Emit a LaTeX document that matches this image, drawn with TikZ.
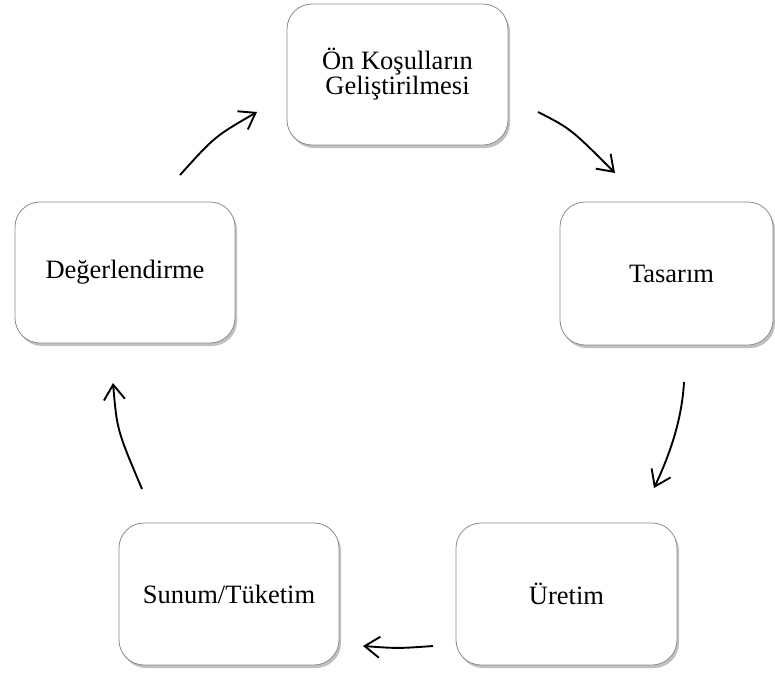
\documentclass[tikz,border=0pt]{standalone}
\usepackage{fontspec}
\setmainfont{Liberation Serif}
\usetikzlibrary{arrows.meta,shadows}
\tikzset{
  stage/.style={draw=black!45, line width=0.8pt, fill=white, rounded corners=25pt,
    rectangle, inner sep=0pt, outer sep=0pt, align=center,
    font=\fontsize{26.5}{24}\selectfont,
    drop shadow={shadow xshift=2pt, shadow yshift=-3pt, fill=black!45, opacity=0.55}},
  flow/.style={line width=1.9pt, -{Straight Barb[length=15pt,width=21pt]}}
}
\begin{document}
\begin{tikzpicture}[x=1pt,y=-1pt]
\useasboundingbox (0,0) rectangle (775,672);

% cycle stages
\node[stage, minimum width=221pt, minimum height=141pt] (onkosul) at (397.5,74.5) {Ön Koşulların\\Geliştirilmesi};
\node[stage, minimum width=213pt, minimum height=143pt] (tasarim) at (666.5,273.5) {\hspace*{10pt}Tasarım};
\node[stage, minimum width=221pt, minimum height=142pt] (uretim) at (566.5,594) {Üretim};
\node[stage, minimum width=220pt, minimum height=142pt] (sunum) at (229,594) {Sunum/Tüketim};
\node[stage, minimum width=220pt, minimum height=141pt] (deger) at (125,272.5) {Değerlendirme};

% free-standing arrow end points between the stages
\coordinate (a1s) at (538,112);  \coordinate (a1e) at (615,173);
\coordinate (a2s) at (684,382);  \coordinate (a2e) at (654,488);
\coordinate (a3s) at (433,646);  \coordinate (a3e) at (363,646);
\coordinate (a4s) at (142,489);  \coordinate (a4e) at (113,383);
\coordinate (a5s) at (180,175);  \coordinate (a5e) at (257,112);

\draw[flow] (a1s) .. controls (570.6,128.6) .. (a1e);
\draw[flow] (a2s) .. controls (682,418) and (671,452) .. (a2e);
\draw[flow] (a3s) .. controls (398,648.5) .. (a3e);
\draw[flow] (a4s) .. controls (117,430) .. (a4e);
\draw[flow] (a5s) .. controls (214.8,136.4) .. (a5e);
\end{tikzpicture}
\end{document}
